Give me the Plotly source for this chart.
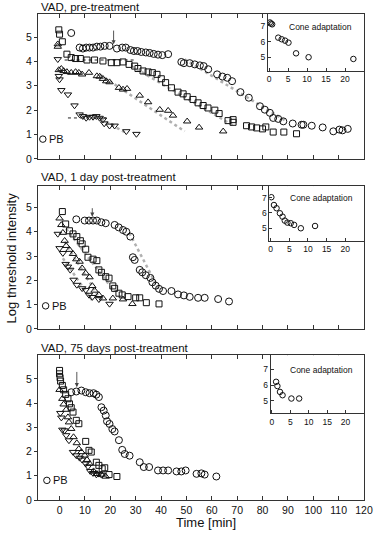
import plotly.graph_objects as go

# ---------------- data ----------------
# Top panel: VAD, pre-treatment
pre_circ_x = [4.6, 7.9, 9.2, 10.5, 11.8, 13.2, 14.7, 16.1, 17.8, 19.7, 22.6, 24.7, 26.1, 27.9, 29.3, 30.7, 32.2, 34.0, 35.5, 37.1, 38.8, 40.5, 42.8,
              48.0, 49.0, 51.3, 53.3, 55.3, 56.8, 58.6, 62.1, 64.2, 66.1, 68.0, 71.3, 74.6, 79.0, 80.9, 82.9, 84.2, 86.2, 88.2, 91.9, 95.4, 96.1,
              99.4, 103.7, 107.9, 110.3, 111.5, 113.6]
pre_circ_y = [5.17, 4.57, 4.53, 4.57, 4.57, 4.57, 4.61, 4.61, 4.64, 4.64, 4.53, 4.57, 4.57, 4.47, 4.43, 4.43, 4.39, 4.37, 4.35, 4.31, 4.28, 4.26, 4.30,
              3.98, 3.93, 3.93, 3.88, 3.84, 3.81, 3.68, 3.47, 3.38, 3.33, 3.19, 2.74, 2.51, 2.16, 2.02, 1.89, 1.68, 1.64, 1.54, 1.45, 1.40, 1.40,
              1.36, 1.29, 1.13, 1.20, 1.17, 1.23]
pre_sq_x = [-0.3, 0.0, 1.1, 2.9, 4.6, 6.3, 8.2, 10.8, 13.8, 17.1, 20.4, 22.6, 25.0, 27.4, 29.6, 30.9, 32.9, 34.9, 36.6, 38.4, 40.1, 41.8, 44.1, 46.7,
            48.7, 50.3, 52.6, 54.6, 56.6, 58.5, 61.2, 62.9, 66.4, 68.4, 68.4, 73.7, 75.7, 77.7, 80.0, 81.3, 84.2, 88.4, 93.4]
pre_sq_y = [5.30, 5.12, 4.81, 4.30, 4.16, 4.12, 4.12, 4.06, 4.06, 4.02, 3.95, 3.95, 3.98, 3.88, 3.81, 3.71, 3.61, 3.57, 3.54, 3.47, 3.29, 3.13, 2.92, 2.74,
            2.67, 2.55, 2.44, 2.30, 2.19, 2.09, 2.00, 1.86, 1.57, 1.50, 1.61, 1.36, 1.31, 1.27, 1.23, 1.31, 1.10, 1.10, 1.03]
pre_tu_x = [-0.7, -0.7, -0.3, 0.7, 1.6, 2.9, 4.6, 6.3, 7.6, 8.9, 11.6, 14.7, 15.8, 17.1, 18.4, 19.7, 23.4, 25.0, 26.6, 31.6, 34.9, 39.5, 42.8, 44.7,
            50.3, 55.0, 64.5]
pre_tu_y = [4.71, 4.61, 3.65, 3.70, 3.61, 3.57, 3.54, 3.57, 3.54, 3.47, 3.54, 3.40, 3.38, 3.29, 3.19, 3.15, 2.92, 2.85, 2.88, 2.60, 2.33, 2.02, 1.98, 1.78,
            1.54, 1.29, 1.13]
pre_td_x = [-0.7, -0.3, 0.0, 0.7, 3.3, 5.9, 7.9, 9.2, 10.5, 11.8, 13.2, 14.5, 15.8, 17.1, 17.6, 19.7, 21.7, 26.3, 30.3]
pre_td_y = [4.09, 3.40, 3.26, 2.82, 2.64, 2.19, 1.82, 1.75, 1.68, 1.72, 1.72, 1.75, 1.68, 1.61, 1.45, 1.36, 1.36, 1.13, 1.02]
pre_pb = ([-6.6], [0.81])
pre_arrow = (21.3, 5.33, 4.71)
pre_fit_gray = [([16.4, 25.7], [1.64, 1.09]), ([15.8, 49.3], [3.47, 1.13]),
                ([28.3, 69.1], [3.81, 1.33]), ([49.3, 89.5], [4.09, 1.54])]
pre_fit_dot = [([3.3, 18.4], [1.68, 1.68]), ([2.0, 29.6], [4.06, 4.06])]
pre_cone_x = [0.2, 0.5, 0.8, 2.4, 3.3, 4.2, 5.1, 7.1, 10.4, 22.2]
pre_cone_y = [7.22, 7.15, 7.10, 6.25, 6.15, 6.06, 5.93, 5.25, 5.00, 4.89]

# Middle panel: VAD, 1 day post-treatment
post1_circ_x = [6.6, 9.9, 11.6, 13.2, 14.7, 16.5, 18.2, 21.7, 23.3, 25.0, 26.3, 27.9, 28.9, 29.6, 31.6, 32.6, 34.0, 35.8, 36.6, 37.9, 39.2, 40.8,
                44.1, 46.7, 49.0, 51.3, 54.6, 57.2, 62.5, 66.8]
post1_circ_y = [4.51, 4.46, 4.46, 4.46, 4.46, 4.39, 4.35, 4.28, 4.18, 4.07, 4.00, 3.80, 2.95, 2.84, 2.43, 2.33, 2.21, 2.10, 1.92, 1.78, 1.65, 1.56,
                1.56, 1.42, 1.38, 1.32, 1.28, 1.28, 1.23, 1.13]
post1_sq_x = [1.1, 2.4, 3.9, 5.3, 6.8, 8.2, 8.9, 10.3, 11.2, 13.2, 14.7, 15.5, 16.5, 18.2, 19.5, 21.0, 21.7, 23.4, 24.7, 27.0, 30.0, 31.6, 34.2, 39.2]
post1_sq_y = [4.83, 4.32, 4.04, 3.91, 3.80, 3.63, 3.50, 3.28, 2.95, 2.87, 2.81, 2.43, 2.33, 2.15, 2.09, 1.77, 1.67, 1.47, 1.40, 1.33, 1.28, 1.28, 1.08, 1.03]
post1_tu_x = [0.0, 0.7, 1.3, 2.0, 2.6, 3.9, 5.3, 6.6, 7.9, 8.9, 10.3, 11.8, 12.9, 13.8, 15.5, 17.1, 21.0, 25.0, 28.7]
post1_tu_y = [4.55, 4.28, 3.96, 3.63, 3.42, 3.26, 3.09, 2.87, 2.77, 2.50, 2.29, 2.13, 1.77, 1.58, 1.40, 1.26, 1.26, 1.22, 1.03]
post1_td_x = [-0.7, 0.0, 1.3, 2.4, 3.3, 4.2, 5.5, 6.8, 8.9, 10.3, 11.6, 12.9, 15.5, 19.7]
post1_td_y = [3.91, 3.32, 3.12, 2.67, 2.56, 2.43, 2.02, 1.81, 1.67, 1.60, 1.40, 1.31, 1.22, 1.03]
post1_pb = ([-5.5], [0.95])
post1_arrow = (12.9, 5.03, 4.62)
post1_fit_gray = [([27.5, 39.0], [3.95, 1.65]), ([2.6, 21.7], [4.12, 1.53]),
                  ([2.0, 15.8], [3.59, 1.26]), ([1.3, 13.2], [2.91, 1.12])]
post1_cone_x = [0.2, 0.9, 1.6, 2.5, 3.2, 3.8, 4.5, 5.4, 6.3, 8.1, 11.9]
post1_cone_y = [7.03, 6.52, 6.31, 5.98, 5.76, 5.50, 5.37, 5.33, 5.22, 5.00, 5.15]

# Bottom panel: VAD, 75 days post-treatment
post75_circ_x = [4.6, 6.6, 8.6, 10.3, 11.8, 13.4, 14.5, 15.5, 16.5, 17.4, 18.2, 18.7, 19.7, 20.8, 21.7, 23.4, 24.7, 25.7, 27.6, 31.6, 33.2, 35.3,
                 38.8, 40.8, 42.8, 46.1, 48.0, 49.7, 54.0, 55.9, 57.2, 61.8]
post75_circ_y = [4.45, 4.48, 4.52, 4.45, 4.41, 4.41, 4.35, 4.25, 3.83, 3.69, 3.49, 3.25, 3.14, 2.93, 2.83, 2.47, 2.07, 1.90, 1.83, 1.56, 1.36, 1.36,
                 1.22, 1.22, 1.22, 1.18, 1.18, 1.22, 1.08, 1.10, 1.05, 0.97]
post75_sq_x = [0.0, 0.0, 0.2, 0.4, 1.1, 1.6, 2.4, 3.3, 3.9, 4.6, 5.3, 6.6, 7.6, 10.3, 11.6, 12.5, 14.5, 15.5, 16.8, 17.8, 19.5, 22.6]
post75_sq_y = [5.35, 5.21, 5.05, 4.91, 4.73, 4.55, 4.36, 4.18, 3.97, 3.81, 3.63, 3.29, 3.15, 2.42, 2.05, 1.98, 1.56, 1.43, 1.29, 1.33, 1.05, 0.97]
post75_tu_x = [0.0, 1.1, 1.6, 2.6, 3.3, 3.7, 4.6, 5.5, 6.8, 7.6, 8.6, 9.9, 10.8, 11.8, 13.4, 14.7, 16.5, 18.2]
post75_tu_y = [4.55, 4.18, 3.95, 3.73, 3.42, 3.21, 2.94, 2.60, 2.35, 2.11, 1.98, 1.84, 1.66, 1.50, 1.19, 1.08, 1.05, 0.97]
post75_td_x = [0.3, 0.7, 1.1, 2.0, 2.6, 3.7, 5.3, 6.6, 7.9, 8.9, 10.3, 11.2, 12.1, 13.2, 14.5, 15.5, 16.5]
post75_td_y = [3.59, 3.40, 2.90, 2.87, 2.67, 2.46, 1.98, 1.84, 1.74, 1.66, 1.50, 1.38, 1.19, 1.11, 1.05, 1.08, 1.04]
post75_pb = ([-5.0], [0.81])
post75_arrow = (6.8, 5.35, 4.66)
post75_cone_x = [1.15, 1.5, 2.2, 2.9, 5.3, 7.4]
post75_cone_y = [6.21, 5.94, 5.57, 5.36, 5.15, 5.15]

panel_titles = ["VAD, pre-treatment", "VAD, 1 day post-treatment", "VAD, 75 days post-treatment"]
x_ticks = list(range(0, 121, 10))
y_ticks = [0, 1, 2, 3, 4, 5]
inset_x_ticks = [0, 5, 10, 15, 20]
inset_y_ticks = [5, 6, 7]

# ---------------- figure ----------------
FONT = "Liberation Sans, Arial, sans-serif"
INK = "#111"
LINE = "#333"
fig = go.Figure()

def mk(sym, size=6.5):
    return dict(symbol=sym, size=size, color=INK, line=dict(color=INK, width=1))

panels = [
    dict(ax="x3", ay="y3", ci=(pre_circ_x, pre_circ_y), sq=(pre_sq_x, pre_sq_y), tu=(pre_tu_x, pre_tu_y),
         td=(pre_td_x, pre_td_y), pb=pre_pb, arrow=pre_arrow, gray=pre_fit_gray, dot=pre_fit_dot,
         cone=(pre_cone_x, pre_cone_y), iax="x4", iay="y4"),
    dict(ax="x2", ay="y2", ci=(post1_circ_x, post1_circ_y), sq=(post1_sq_x, post1_sq_y), tu=(post1_tu_x, post1_tu_y),
         td=(post1_td_x, post1_td_y), pb=post1_pb, arrow=post1_arrow, gray=post1_fit_gray, dot=[],
         cone=(post1_cone_x, post1_cone_y), iax="x5", iay="y5"),
    dict(ax="x", ay="y", ci=(post75_circ_x, post75_circ_y), sq=(post75_sq_x, post75_sq_y), tu=(post75_tu_x, post75_tu_y),
         td=(post75_td_x, post75_td_y), pb=post75_pb, arrow=post75_arrow, gray=[], dot=[],
         cone=(post75_cone_x, post75_cone_y), iax="x6", iay="y6"),
]

for p in panels:
    for gx, gy in p["gray"]:
        fig.add_trace(go.Scatter(x=gx, y=gy, mode="lines", xaxis=p["ax"], yaxis=p["ay"],
                                 line=dict(color="#b0b0b0", width=2.5, dash="dot"), hoverinfo="skip"))
    for dx, dy in p["dot"]:
        fig.add_trace(go.Scatter(x=dx, y=dy, mode="lines", xaxis=p["ax"], yaxis=p["ay"],
                                 line=dict(color="#222", width=1, dash="dot"), hoverinfo="skip"))
    fig.add_trace(go.Scatter(x=p["td"][0], y=p["td"][1], mode="markers", xaxis=p["ax"], yaxis=p["ay"], marker=mk("triangle-down-open", 6.5)))
    fig.add_trace(go.Scatter(x=p["tu"][0], y=p["tu"][1], mode="markers", xaxis=p["ax"], yaxis=p["ay"], marker=mk("triangle-up-open", 6.5)))
    fig.add_trace(go.Scatter(x=p["sq"][0], y=p["sq"][1], mode="markers", xaxis=p["ax"], yaxis=p["ay"], marker=mk("square-open", 6)))
    fig.add_trace(go.Scatter(x=p["ci"][0], y=p["ci"][1], mode="markers", xaxis=p["ax"], yaxis=p["ay"], marker=mk("circle-open", 7)))
    fig.add_trace(go.Scatter(x=p["pb"][0], y=p["pb"][1], mode="markers", xaxis=p["ax"], yaxis=p["ay"], marker=mk("circle-open", 6.5)))
    fig.add_trace(go.Scatter(x=p["cone"][0], y=p["cone"][1], mode="markers", xaxis=p["iax"], yaxis=p["iay"], marker=mk("circle-open", 5.5)))
    fig.add_annotation(x=p["pb"][0][0] + 1.8, y=p["pb"][1][0], xref=p["ax"], yref=p["ay"], text="PB",
                       showarrow=False, xanchor="left", font=dict(size=11, color=INK, family=FONT))
    ax_, y0, y1 = p["arrow"]
    fig.add_annotation(x=ax_, y=y1, ax=ax_, ay=y0, xref=p["ax"], yref=p["ay"], axref=p["ax"], ayref=p["ay"],
                       text="", showarrow=True, arrowhead=2, arrowsize=0.9, arrowwidth=0.9, arrowcolor="#444")
    fig.add_annotation(x=13.5, y=6.95, xref=p["iax"], yref=p["iay"], text="Cone adaptation", showarrow=False,
                       font=dict(size=8.5, color=INK, family=FONT))

main_dom = {"": [0, 0.298], "2": [0.352, 0.646], "3": [0.702, 1.0]}
main_yr = {"": [0, 5.98], "2": [0, 5.88], "3": [0, 5.95]}
for k in ["", "2", "3"]:
    fig.layout["xaxis" + k] = dict(domain=[0, 1], range=[-8.5, 120], anchor="y" + k, tickvals=x_ticks,
                                   ticks="inside", ticklen=4, tickcolor=LINE, showline=True, linecolor=LINE, linewidth=1,
                                   mirror="ticks", showgrid=False, zeroline=False, showticklabels=(k == ""),
                                   automargin=False, tickfont=dict(size=10.5, color=INK, family=FONT))
    fig.layout["yaxis" + k] = dict(domain=main_dom[k], range=main_yr[k], anchor="x" + k, tickvals=y_ticks,
                                   ticks="outside", ticklen=3, tickcolor=LINE, showline=True, linecolor=LINE, linewidth=1,
                                   mirror=True, showgrid=False, zeroline=False, automargin=False,
                                   tickfont=dict(size=10.5, color=INK, family=FONT))

inset_dom = {"4": ([0.7055, 1.0], [0.883, 1.0]), "5": ([0.710, 1.0], [0.533, 0.646]), "6": ([0.714, 1.0], [0.178, 0.298])}
inset_yr = {"4": [4.13, 7.76], "5": [4.17, 7.76], "6": [4.2, 7.9]}
for k, (dx, dy) in inset_dom.items():
    fig.layout["xaxis" + k] = dict(domain=dx, range=[-0.3, 25], anchor="y" + k, tickvals=inset_x_ticks,
                                   ticks="inside", ticklen=3, tickcolor=LINE, showline=True, linecolor=LINE, linewidth=1,
                                   mirror=True, showgrid=False, zeroline=False, automargin=False,
                                   tickfont=dict(size=8.5, color=INK, family=FONT))
    fig.layout["yaxis" + k] = dict(domain=dy, range=inset_yr[k], anchor="x" + k, tickvals=inset_y_ticks,
                                   ticks="inside", ticklen=3, tickcolor=LINE, showline=True, linecolor=LINE, linewidth=1,
                                   mirror=True, showgrid=False, zeroline=False, automargin=False,
                                   tickfont=dict(size=8.5, color=INK, family=FONT))

title_y = [1.0144, 0.665, 0.313]
for t, ty in zip(panel_titles, title_y):
    fig.add_annotation(x=0.004, y=ty, xref="paper", yref="paper", text=t, showarrow=False,
                       xanchor="left", yanchor="middle", font=dict(size=11.5, color=INK, family=FONT))

fig.add_annotation(x=-0.08, y=0.499, xref="paper", yref="paper", text="Log threshold intensity", textangle=-90,
                   showarrow=False, xanchor="center", yanchor="middle", font=dict(size=13, color=INK, family=FONT))
fig.add_annotation(x=0.515, y=-0.047, xref="paper", yref="paper", text="Time [min]", showarrow=False,
                   xanchor="center", yanchor="middle", font=dict(size=13, color=INK, family=FONT))

fig.update_layout(width=374, height=540, margin=dict(l=38, r=10, t=14, b=40), showlegend=False,
                  paper_bgcolor="white", plot_bgcolor="white", font=dict(family=FONT, color=INK))

fig.write_html("out.html", config={"displayModeBar": False},
               post_script="document.body.style.margin='0px';document.body.style.padding='0px';")
